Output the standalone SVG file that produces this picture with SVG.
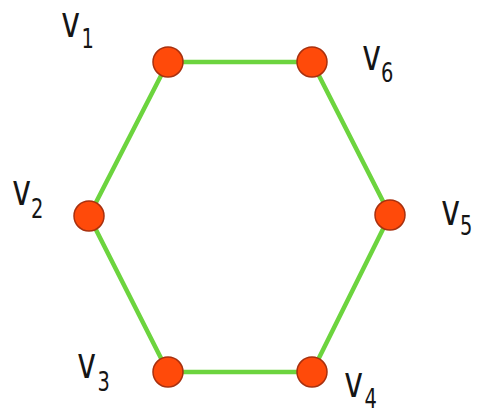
<svg xmlns="http://www.w3.org/2000/svg" width="483" height="414" viewBox="0 0 483 414">
<style>
.edge{stroke:#6cd43e;stroke-width:4.5;fill:none;stroke-linecap:round}
.node{fill:#ff4a0a;stroke:#a8300e;stroke-width:1.5}
.lbl{font-family:"DejaVu Sans",Verdana,sans-serif;font-size:44px;fill:#151515}
.sub{font-size:27px}
</style>
<rect width="483" height="414" fill="#ffffff"/>
<g id="connectors">
<line class="edge" x1="168" y1="62" x2="312" y2="62"/>
<line class="edge" x1="312" y1="62" x2="390" y2="215"/>
<line class="edge" x1="390" y1="215" x2="312" y2="372"/>
<line class="edge" x1="312" y1="372" x2="168" y2="372"/>
<line class="edge" x1="168" y1="372" x2="89" y2="216"/>
<line class="edge" x1="89" y1="216" x2="168" y2="62"/>
</g>
<g id="v1"><circle class="node" cx="168" cy="62" r="15"/><g transform="translate(62,37) scale(0.72,1)"><text class="lbl" x="-1" y="0">v<tspan class="sub" dx="2" dy="11">1</tspan></text></g></g>
<g id="v6"><circle class="node" cx="312" cy="62" r="15"/><g transform="translate(363,70) scale(0.72,1)"><text class="lbl" x="-1" y="0">v<tspan class="sub" dx="0" dy="12">6</tspan></text></g></g>
<g id="v2"><circle class="node" cx="89" cy="216" r="15"/><g transform="translate(13,205) scale(0.72,1)"><text class="lbl" x="-1" y="0">v<tspan class="sub" dx="0" dy="13">2</tspan></text></g></g>
<g id="v5"><circle class="node" cx="390" cy="215" r="15"/><g transform="translate(442,225) scale(0.72,1)"><text class="lbl" x="-1" y="0">v<tspan class="sub" dx="0" dy="10">5</tspan></text></g></g>
<g id="v3"><circle class="node" cx="168" cy="372" r="15"/><g transform="translate(78,378) scale(0.72,1)"><text class="lbl" x="-1" y="0">v<tspan class="sub" dx="2" dy="13">3</tspan></text></g></g>
<g id="v4"><circle class="node" cx="312" cy="372" r="15"/><g transform="translate(345,397) scale(0.72,1)"><text class="lbl" x="-1" y="0">v<tspan class="sub" dx="2" dy="11">4</tspan></text></g></g>
</svg>
